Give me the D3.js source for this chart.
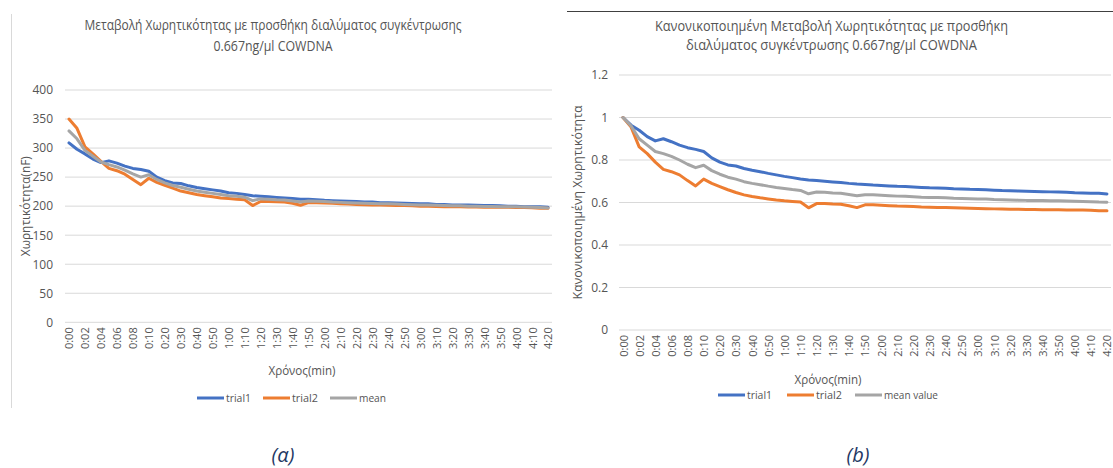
<!DOCTYPE html>
<html><head><meta charset="utf-8">
<script src="https://cdn.jsdelivr.net/npm/d3@7"></script>
<style>
html,body{margin:0;padding:0;background:#fff;}
svg{display:block;font-family:"Open Sans","Noto Sans",sans-serif;}
</style></head>
<body>
<svg id="c" width="1113" height="468"></svg>
<script>
// ---------- DATA ----------
const categories = ["0:00","0:01","0:02","0:03","0:04","0:05","0:06","0:07","0:08","0:09","0:10",
"0:15","0:20","0:25","0:30","0:35","0:40","0:45","0:50","0:55","1:00","1:05","1:10","1:15","1:20","1:25",
"1:30","1:35","1:40","1:45","1:50","1:55","2:00","2:05","2:10","2:15","2:20","2:25","2:30","2:35","2:40",
"2:45","2:50","2:55","3:00","3:05","3:10","3:15","3:20","3:25","3:30","3:35","3:40","3:45","3:50","3:55",
"4:00","4:05","4:10","4:15","4:20"];
const xTickLabels = ["0:00","0:02","0:04","0:06","0:08","0:10","0:20","0:30","0:40","0:50","1:00","1:10",
"1:20","1:30","1:40","1:50","2:00","2:10","2:20","2:30","2:40","2:50","3:00","3:10","3:20","3:30","3:40",
"3:50","4:00","4:10","4:20"];

// (a) capacitance, nF
const trial1 = [309,298,290,281,275,278,274,269,265,263,260,250,244,240,239,235,232,230,228,226,223,222,220,218,217,216,
215,214,213,212,212,211,210,209.5,209,208.5,208,207,207,206,206,205.5,205,204.5,204,204,203,203,202,202,202,201.5,201,201,200.5,200,
200,199,199,199,198];
const trial2 = [350,334,302,290,277,265,261,255,246,237,248,241,236,231,226,223,220,218,216,214,213,212,211,201,208,208,
207.5,207,205,201.5,206,206,205.5,205,204,203.5,203,202.5,202,202,201.5,201,201,200.5,200,200,199.5,199,199,199,198.5,198.5,198,198,198,198,
197.8,197.8,197.4,196.4,196.4];
const meanA = [329.5,316,296,286,276,271.5,267.5,262,255.5,250,254,246,240,235.5,232.5,229,226,224,222,220,218,217,215.5,209.5,212.5,212,
211,210.5,209,207,209,208.5,208,207,206.5,206,205.5,205,204.5,204,204,203.5,203,202.5,202,202,201.5,201,200.5,200.5,200,200,199.5,199.5,199,199,
199,198.5,198,197.5,197];
const yTicksA = [0,50,100,150,200,250,300,350,400];

// (b) normalised
const trial1N = [1.0,0.964,0.94,0.91,0.89,0.90,0.886,0.87,0.858,0.85,0.84,0.81,0.79,0.777,0.772,0.76,0.752,0.745,0.737,0.73,0.723,0.717,0.711,0.706,0.703,0.70,
0.697,0.694,0.69,0.687,0.685,0.682,0.680,0.678,0.676,0.675,0.673,0.671,0.669,0.668,0.667,0.665,0.664,0.662,0.661,0.660,0.658,0.656,0.655,0.654,0.653,0.652,0.651,0.650,0.649,0.648,
0.646,0.645,0.644,0.643,0.640];
const trial2N = [1.0,0.955,0.862,0.83,0.79,0.756,0.745,0.73,0.703,0.678,0.71,0.69,0.675,0.66,0.647,0.636,0.628,0.622,0.617,0.612,0.608,0.605,0.602,0.575,0.595,0.595,
0.593,0.592,0.585,0.576,0.589,0.589,0.587,0.585,0.583,0.582,0.581,0.579,0.578,0.577,0.576,0.575,0.574,0.573,0.572,0.571,0.570,0.569,0.568,0.568,0.567,0.567,0.566,0.566,0.566,0.565,
0.565,0.565,0.564,0.561,0.561];
const meanN = [1.0,0.96,0.90,0.87,0.84,0.83,0.817,0.80,0.78,0.764,0.775,0.75,0.733,0.719,0.71,0.698,0.69,0.684,0.677,0.671,0.666,0.661,0.657,0.641,0.649,0.648,
0.645,0.643,0.638,0.632,0.637,0.636,0.634,0.632,0.630,0.629,0.627,0.625,0.624,0.623,0.622,0.620,0.619,0.618,0.617,0.616,0.614,0.613,0.612,0.611,0.610,0.610,0.609,0.608,0.608,0.607,
0.606,0.605,0.604,0.602,0.601];
const yTicksB = [0,0.2,0.4,0.6,0.8,1,1.2];

const colors = {trial1:"#4472C4", trial2:"#ED7D31", mean:"#A5A5A5"};
const textGray = "#555555";
const gridGray = "#d9d9d9";

const svg = d3.select("#c");

function fitText(sel, w){ sel.attr("textLength", w).attr("lengthAdjust","spacingAndGlyphs"); }

function drawChart(cfg){
  const g = svg.append("g");
  const x = d3.scalePoint().domain(categories).range([cfg.left, cfg.right]).padding(0.5);
  const y = d3.scaleLinear().domain(cfg.yDomain).range([cfg.bottom, cfg.top]);

  // gridlines
  g.append("g").selectAll("line").data(cfg.yTicks).join("line")
    .attr("x1", cfg.left).attr("x2", cfg.right)
    .attr("y1", d=>y(d)).attr("y2", d=>y(d))
    .attr("stroke", gridGray).attr("stroke-width", 1);

  // y axis labels
  const ya = g.append("g").attr("transform", `translate(${cfg.left},0)`)
    .call(d3.axisLeft(y).tickValues(cfg.yTicks).tickSize(0).tickPadding(cfg.yPad).tickFormat(cfg.yFmt));
  ya.select(".domain").remove();
  ya.selectAll("text").attr("fill", textGray).style("font-size","12px").style("font-family","'Open Sans',sans-serif");

  // x axis labels
  const xa = g.append("g").attr("transform", `translate(0,${cfg.bottom})`)
    .call(d3.axisBottom(x).tickValues(xTickLabels).tickSize(0));
  xa.select(".domain").remove();
  xa.selectAll("text")
    .attr("fill", textGray).style("font-size","11px").style("font-family","'Open Sans',sans-serif")
    .attr("transform","rotate(-90)")
    .attr("text-anchor","end")
    .attr("x", -cfg.xLabPad).attr("y", 0).attr("dy","0.36em");

  // lines
  const line = d3.line().x((d,i)=>x(categories[i])).y(d=>y(d));
  cfg.series.forEach(s=>{
    g.append("path").datum(s.values)
      .attr("fill","none").attr("stroke", s.color).attr("stroke-width", 3)
      .attr("stroke-linejoin","round").attr("stroke-linecap","round")
      .attr("d", line);
  });

  // title
  cfg.title.forEach((t,i)=>{
    const tt = g.append("text").attr("x", cfg.titleX).attr("y", cfg.titleY[i])
      .attr("text-anchor","middle").attr("fill", textGray)
      .style("font-size", cfg.titleSize).text(t.text);
    fitText(tt, t.w);
  });

  // y title
  const yt = g.append("text")
    .attr("transform", `translate(${cfg.yTitleX},${(cfg.top+cfg.bottom)/2}) rotate(-90)`)
    .attr("text-anchor","middle").attr("dy","0.35em").attr("fill", textGray)
    .style("font-size","13.5px").text(cfg.yTitle);
  fitText(yt, cfg.yTitleW);

  // x title
  const xt = g.append("text").attr("x", cfg.xTitleX).attr("y", cfg.xTitleY)
    .attr("text-anchor","middle").attr("fill", textGray)
    .style("font-size","13.5px").text("Χρόνος(min)");
  fitText(xt, 67);

  // legend
  const lg = g.append("g");
  cfg.series.forEach((s,i)=>{
    const L = cfg.legend[i];
    lg.append("line").attr("x1", L.x).attr("x2", L.x+27).attr("y1", cfg.legendY).attr("y2", cfg.legendY)
      .attr("stroke", s.color).attr("stroke-width", 3);
    const lt = lg.append("text").attr("x", L.x+29).attr("y", cfg.legendY).attr("dy","0.35em")
      .attr("fill", textGray).style("font-size","11.5px").text(s.name);
    fitText(lt, L.w);
  });
}

// frame lines
svg.append("line").attr("x1",11.5).attr("x2",11.5).attr("y1",14).attr("y2",408)
  .attr("stroke","#d9d9d9").attr("stroke-width",1);
svg.append("line").attr("x1",567).attr("x2",1113).attr("y1",11.5).attr("y2",11.5)
  .attr("stroke","#404040").attr("stroke-width",1);

drawChart({
  left:65, right:552, top:90, bottom:322.3, yDomain:[0,400], yTicks:yTicksA, yPad:12,
  yFmt:d3.format("d"), xLabPad:5, titleSize:"15px",
  series:[{name:"trial1",values:trial1,color:colors.trial1},
          {name:"trial2",values:trial2,color:colors.trial2},
          {name:"mean",values:meanA,color:colors.mean}],
  title:[{text:"Μεταβολή Χωρητικότητας με προσθήκη διαλύματος συγκέντρωσης", w:377},
         {text:"0.667ng/μl COWDNA", w:119}],
  titleX:273, titleY:[30,51],
  yTitle:"Χωρητικότητα(nF)", yTitleX:25, yTitleW:100,
  xTitleX:302, xTitleY:375,
  legendY:398, legend:[{x:197,w:25},{x:263,w:26},{x:330,w:27}]
});

drawChart({
  left:619, right:1111, top:75, bottom:330, yDomain:[0,1.2], yTicks:yTicksB, yPad:11,
  yFmt:d=>String(+d.toFixed(1)), xLabPad:5, titleSize:"14px",
  series:[{name:"trial1",values:trial1N,color:colors.trial1},
          {name:"trial2",values:trial2N,color:colors.trial2},
          {name:"mean value",values:meanN,color:colors.mean}],
  title:[{text:"Κανονικοποιημένη Μεταβολή Χωρητικότητας με προσθήκη", w:353},
         {text:"διαλύματος συγκέντρωσης 0.667ng/μl COWDNA", w:291}],
  titleX:831.5, titleY:[31,50],
  yTitle:"Κανονικοποιημένη Χωρητικότητα", yTitleX:577, yTitleW:194,
  xTitleX:828, xTitleY:384,
  legendY:395, legend:[{x:718,w:25},{x:787,w:26},{x:855,w:54}]
});

// captions
svg.append("text").attr("x",283).attr("y",462).attr("text-anchor","middle")
  .attr("fill","#1F3864").style("font-style","italic").style("font-size","20px").text("(α)");
svg.append("text").attr("x",858).attr("y",462).attr("text-anchor","middle")
  .attr("fill","#1F3864").style("font-style","italic").style("font-size","20px").text("(b)");
</script>
</body></html>
